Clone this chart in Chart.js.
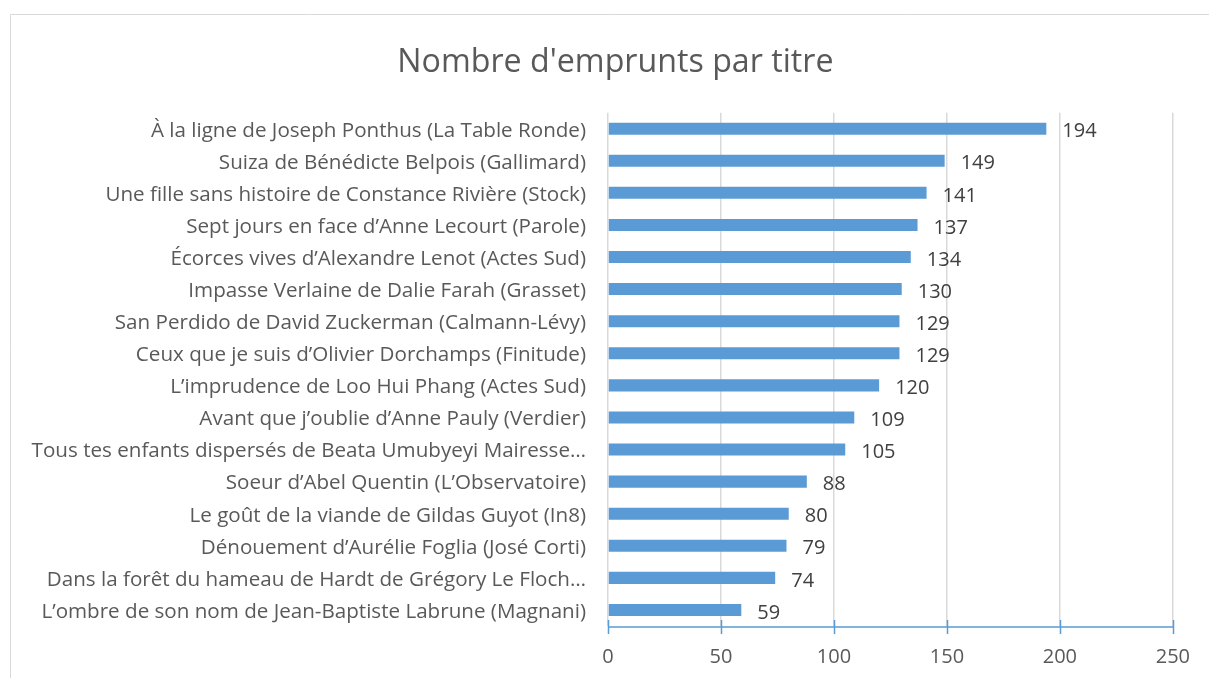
<!DOCTYPE html>
<html>
<head>
<meta charset="utf-8">
<script src="https://cdn.jsdelivr.net/npm/chart.js@4"></script>
<style>
  html, body { margin: 0; padding: 0; background: #ffffff; }
  #wrap { position: relative; width: 1209px; height: 678px; overflow: hidden; }
  canvas { display: block; }
</style>
</head>
<body>
<div id="wrap"><canvas id="c" width="1209" height="678"></canvas></div>
<script>
const chartTitle = "Nombre d'emprunts par titre";
const categories = [
  "À la ligne de Joseph Ponthus (La Table Ronde)",
  "Suiza de Bénédicte Belpois (Gallimard)",
  "Une fille sans histoire de Constance Rivière (Stock)",
  "Sept jours en face d’Anne Lecourt (Parole)",
  "Écorces vives d’Alexandre Lenot (Actes Sud)",
  "Impasse Verlaine de Dalie Farah (Grasset)",
  "San Perdido de David Zuckerman (Calmann-Lévy)",
  "Ceux que je suis d’Olivier Dorchamps (Finitude)",
  "L’imprudence de Loo Hui Phang (Actes Sud)",
  "Avant que j’oublie d’Anne Pauly (Verdier)",
  "Tous tes enfants dispersés de Beata Umubyeyi Mairesse…",
  "Soeur d’Abel Quentin (L’Observatoire)",
  "Le goût de la viande de Gildas Guyot (In8)",
  "Dénouement d’Aurélie Foglia (José Corti)",
  "Dans la forêt du hameau de Hardt de Grégory Le Floch…",
  "L’ombre de son nom de Jean-Baptiste Labrune (Magnani)"
];
const emprunts = [194, 149, 141, 137, 134, 130, 129, 129, 120, 109, 105, 88, 80, 79, 74, 59];
const axisMin = 0;
const axisMax = 250;
const axisStep = 50;

const FONT = "'Open Sans', Lato, sans-serif";
const BLUE = "#5b9bd5";

const framePlugin = {
  id: 'frame',
  afterLayout(chart) {
    // centre the title over the frame like the original
    if (chart.titleBlock) {
      chart.titleBlock.left = 58;
      chart.titleBlock.right = chart.chartArea.right;
    }
  },
  beforeDraw(chart) {
    const ctx = chart.ctx;
    ctx.save();
    ctx.fillStyle = '#ffffff';
    ctx.fillRect(0, 0, chart.width, chart.height);
    ctx.strokeStyle = '#d9d9d9';
    ctx.lineWidth = 1;
    ctx.beginPath();
    ctx.moveTo(10.5, chart.height + 5);
    ctx.lineTo(10.5, 14.5);
    ctx.lineTo(chart.width + 5, 14.5);
    ctx.stroke();
    ctx.restore();
  }
};

const axisPlugin = {
  id: 'blueAxis',
  afterDatasetsDraw(chart) {
    const ctx = chart.ctx;
    const xs = chart.scales.x;
    const y = chart.chartArea.bottom + 1;
    ctx.save();
    ctx.strokeStyle = BLUE;
    ctx.lineWidth = 1.5;
    ctx.beginPath();
    ctx.moveTo(xs.left, y);
    ctx.lineTo(xs.right, y);
    xs.ticks.forEach(t => {
      const px = Math.round(xs.getPixelForValue(t.value)) + 0.5;
      ctx.moveTo(px, y - 7);
      ctx.lineTo(px, y + 7);
    });
    ctx.stroke();
    ctx.restore();
  }
};

const labelPlugin = {
  id: 'valueLabels',
  afterDatasetsDraw(chart) {
    const ctx = chart.ctx;
    const meta = chart.getDatasetMeta(0);
    ctx.save();
    ctx.font = "20px " + FONT;
    ctx.fillStyle = '#404040';
    ctx.textAlign = 'left';
    ctx.textBaseline = 'middle';
    meta.data.forEach((bar, i) => {
      ctx.fillText(String(chart.data.datasets[0].data[i]), bar.x + 16, bar.y + 3);
    });
    ctx.restore();
  }
};

new Chart(document.getElementById('c'), {
  type: 'bar',
  data: {
    labels: categories,
    datasets: [{
      data: emprunts,
      backgroundColor: BLUE,
      borderWidth: 0,
      barPercentage: 0.375,
      categoryPercentage: 1.0
    }]
  },
  options: {
    indexAxis: 'y',
    responsive: false,
    animation: false,
    layout: { padding: { left: 0, right: 36, top: 0, bottom: 0 } },
    plugins: {
      legend: { display: false },
      tooltip: { enabled: false },
      title: {
        display: true,
        text: chartTitle,
        color: '#595959',
        font: { family: FONT, size: 32.2, weight: 'normal', lineHeight: 1.2 },
        padding: { top: 44, bottom: 30 }
      }
    },
    scales: {
      x: {
        min: axisMin,
        max: axisMax,
        ticks: { stepSize: axisStep, color: '#595959', font: { family: FONT, size: 20 }, padding: 19 },
        grid: { color: '#d9d9d9', lineWidth: 1.5, drawTicks: false },
        border: { display: false },
        afterFit(scale) { scale.height = 52; }
      },
      y: {
        ticks: { color: '#595959', font: { family: FONT, size: 20.6 }, padding: 22, autoSkip: false, labelOffset: 2 },
        grid: { display: false, drawTicks: false },
        border: { display: false },
        afterFit(scale) { scale.width = 608; }
      }
    }
  },
  plugins: [framePlugin, axisPlugin, labelPlugin]
});
</script>
</body>
</html>
